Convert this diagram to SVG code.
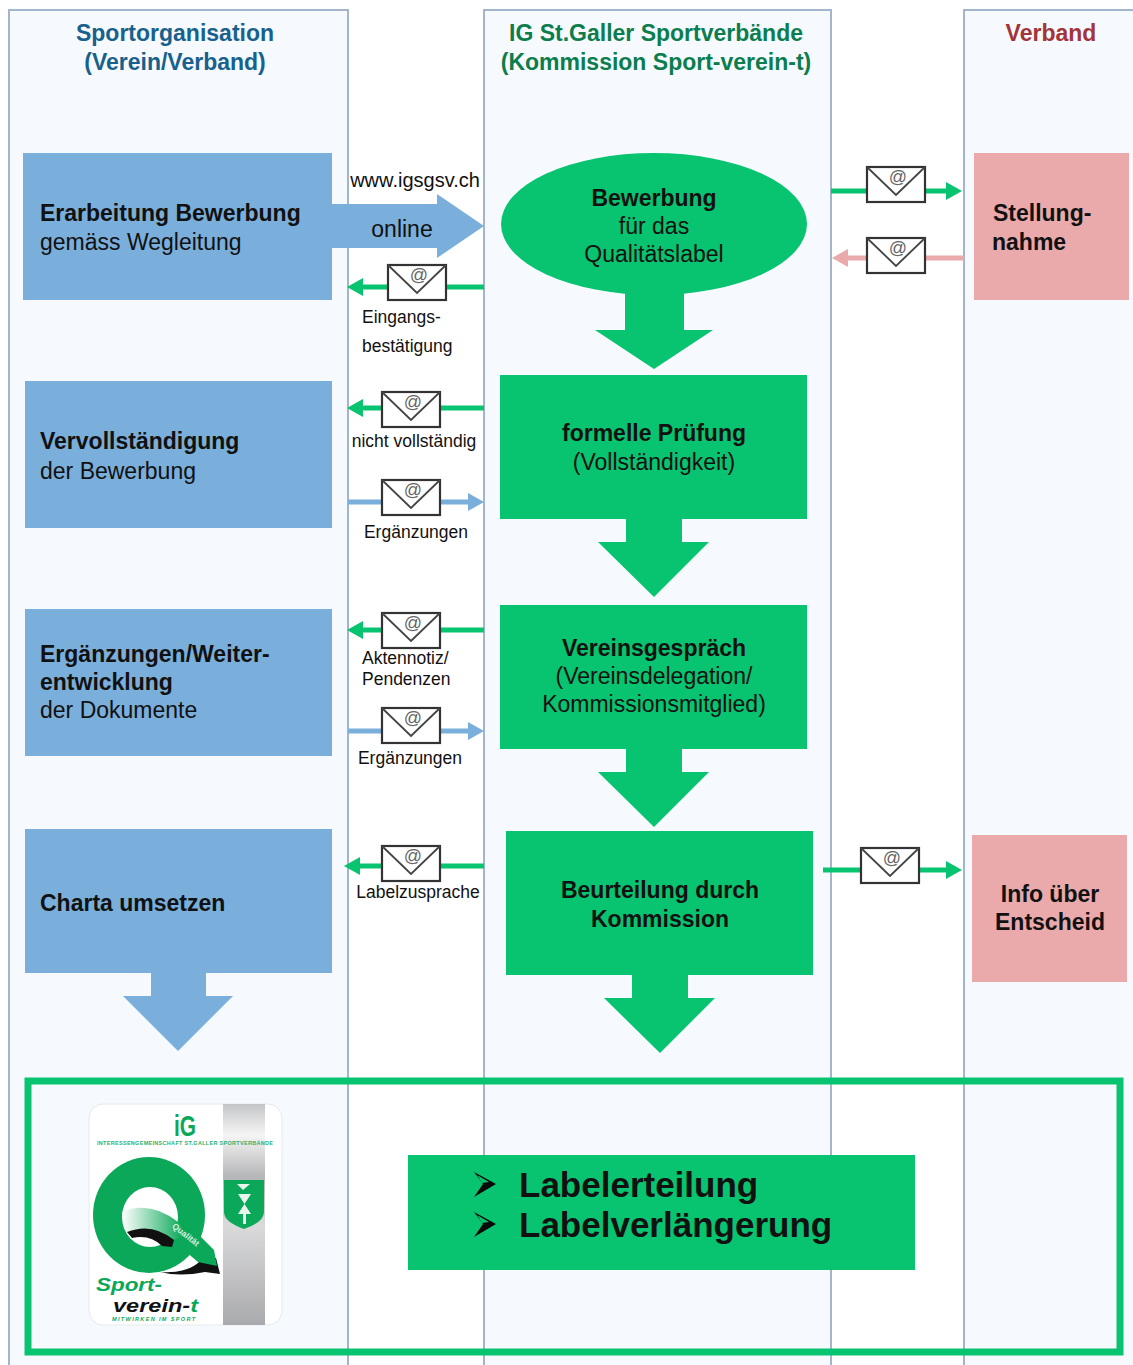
<svg xmlns="http://www.w3.org/2000/svg" width="1133" height="1365" viewBox="0 0 1133 1365">
<style>
text{font-family:"Liberation Sans",Arial,sans-serif;fill:#111}
.lane{fill:#f6faff;stroke:#a3b4cd;stroke-width:2}
.n{font-size:23px;text-anchor:start}
.b{font-weight:bold}
.c{text-anchor:middle}
.s{font-size:17.5px}
.blue{fill:#7aaedb}.green{fill:#08c36f}.pink{fill:#eaa9aa}
.g{stroke:#08c36f;stroke-width:5;fill:none}
.bl{stroke:#7aaedb;stroke-width:5;fill:none}
.p{stroke:#eaa9aa;stroke-width:5;fill:none}
.hd{font-size:23px;font-weight:bold}
</style>
<defs>
<g id="env">
<rect x="0" y="0" width="58" height="35" fill="#fff" stroke="#333" stroke-width="2.2"/>
<path d="M0 0L29 28L58 0" fill="none" stroke="#444" stroke-width="1.8"/>
<text x="31" y="16" font-size="18" text-anchor="middle" style="fill:#666">@</text>
</g>
<g id="bullet">
<path d="M0 0L22 12L0 25L9 12Z" fill="#0a0a0a"/>
<path d="M3 3L15 10L8 11Z" fill="#08c36f"/>
</g>
<marker id="mg" markerUnits="userSpaceOnUse" markerWidth="18" markerHeight="18" refX="10" refY="9" orient="auto"><path d="M0 0L16 9L0 18Z" fill="#08c36f"/></marker>
<marker id="mb" markerUnits="userSpaceOnUse" markerWidth="18" markerHeight="18" refX="10" refY="9" orient="auto"><path d="M0 0L16 9L0 18Z" fill="#7aaedb"/></marker>
<marker id="mp" markerUnits="userSpaceOnUse" markerWidth="18" markerHeight="18" refX="10" refY="9" orient="auto"><path d="M0 0L16 9L0 18Z" fill="#eaa9aa"/></marker>
<linearGradient id="grey" x1="0" y1="0" x2="0" y2="1"><stop offset="0" stop-color="#c4c5c7"/><stop offset=".14" stop-color="#f5f5f5"/><stop offset=".33" stop-color="#b5b6b8"/><stop offset=".55" stop-color="#dadadb"/><stop offset="1" stop-color="#a9aaad"/></linearGradient>
<linearGradient id="sw" x1="0" y1="0" x2="1" y2="0"><stop offset="0" stop-color="#fff"/><stop offset=".9" stop-color="#0aa858"/></linearGradient>
</defs>

<g id="lanes">
<rect class="lane" x="9" y="10" width="339" height="1365"/>
<rect class="lane" x="484" y="10" width="347" height="1365"/>
<rect class="lane" x="964" y="10" width="180" height="1365"/>
<text class="hd c" x="175" y="41" style="fill:#17618c">Sportorganisation</text>
<text class="hd c" x="175" y="70" style="fill:#17618c">(Verein/Verband)</text>
<text class="hd c" x="656" y="41" style="fill:#0c7d4d">IG St.Galler Sportverbände</text>
<text class="hd c" x="656" y="70" style="fill:#0c7d4d">(Kommission Sport-verein-t)</text>
<text class="hd c" x="1051" y="41" style="fill:#a2343a">Verband</text>
</g>

<g id="connectors">
<path class="g" d="M484 287H353" marker-end="url(#mg)"/>
<path class="g" d="M484 408H353" marker-end="url(#mg)"/>
<path class="bl" d="M348 502H478" marker-end="url(#mb)"/>
<path class="g" d="M484 630H353" marker-end="url(#mg)"/>
<path class="bl" d="M348 731H478" marker-end="url(#mb)"/>
<path class="g" d="M484 866H350" marker-end="url(#mg)"/>
<path class="g" d="M831 191H956" marker-end="url(#mg)"/>
<path class="p" d="M964 258H838" marker-end="url(#mp)"/>
<path class="g" d="M823 870H956" marker-end="url(#mg)"/>
<use href="#env" x="388" y="265"/>
<use href="#env" x="382" y="392"/>
<use href="#env" x="382" y="480"/>
<use href="#env" x="382" y="613"/>
<use href="#env" x="382" y="708"/>
<use href="#env" x="382" y="846"/>
<use href="#env" x="867" y="167"/>
<use href="#env" x="867" y="238"/>
<use href="#env" x="861" y="848"/>
<g class="s">
<text x="415" y="187" class="c" style="font-size:20px">www.igsgsv.ch</text>
<text x="362" y="323">Eingangs-</text>
<text x="362" y="352">bestätigung</text>
<text x="414" y="447" class="c">nicht vollständig</text>
<text x="416" y="538" class="c">Ergänzungen</text>
<text x="362" y="664">Aktennotiz/</text>
<text x="362" y="685">Pendenzen</text>
<text x="410" y="764" class="c">Ergänzungen</text>
<text x="418" y="898" class="c">Labelzusprache</text>
</g>
</g>

<g id="n1"><rect class="blue" x="23" y="153" width="309" height="147"/>
<path class="blue" d="M332 204H437V194L484 226L437 258V248H332Z"/>
<text class="n b" x="40" y="221">Erarbeitung Bewerbung</text><text class="n" x="40" y="250">gemäss Wegleitung</text>
<text x="402" y="237" class="c" style="font-size:23px">online</text></g>
<g id="n2"><rect class="blue" x="25" y="381" width="307" height="147"/>
<text class="n b" x="40" y="449">Vervollständigung</text><text class="n" x="40" y="479">der Bewerbung</text></g>
<g id="n3"><rect class="blue" x="25" y="609" width="307" height="147"/>
<text class="n b" x="40" y="662">Ergänzungen/Weiter-</text><text class="n b" x="40" y="690">entwicklung</text><text class="n" x="40" y="718">der Dokumente</text></g>
<g id="n4"><path class="blue" d="M25 829H332V973H206V996H233L178 1051L123 996H151V973H25Z"/>
<text class="n b" x="40" y="911">Charta umsetzen</text></g>

<g id="n5"><path class="green" d="M625 290H684V330H713L654 369L595 330H625Z"/><ellipse class="green" cx="654" cy="224" rx="153" ry="71"/>
<text class="n b c" x="654" y="206">Bewerbung</text><text class="n c" x="654" y="234">für das</text><text class="n c" x="654" y="262">Qualitätslabel</text></g>
<g id="n6"><path class="green" d="M500 375H807V519H682V542H709L654 597L598 542H626V519H500Z"/>
<text class="n b c" x="654" y="441">formelle Prüfung</text><text class="n c" x="654" y="470">(Vollständigkeit)</text></g>
<g id="n7"><path class="green" d="M500 605H807V749H682V772H709L654 827L598 772H626V749H500Z"/>
<text class="n b c" x="654" y="656">Vereinsgespräch</text><text class="n c" x="654" y="684">(Vereinsdelegation/</text><text class="n c" x="654" y="712">Kommissionsmitglied)</text></g>
<g id="n8"><path class="green" d="M506 831H813V975H688V998H715L660 1053L604 998H632V975H506Z"/>
<text class="n b c" x="660" y="898">Beurteilung durch</text><text class="n b c" x="660" y="927">Kommission</text></g>
<g id="n9"><rect class="pink" x="974" y="153" width="155" height="147"/>
<text class="n b" x="993" y="221">Stellung-</text><text class="n b" x="992" y="250">nahme</text></g>
<g id="n10"><rect class="pink" x="972" y="835" width="155" height="147"/>
<text class="n b c" x="1050" y="902">Info über</text><text class="n b c" x="1050" y="930">Entscheid</text></g>

<g id="result">
<rect x="28" y="1081" width="1092" height="271" fill="none" stroke="#08c36f" stroke-width="7"/>
<rect class="green" x="408" y="1155" width="507" height="115"/>
<use href="#bullet" x="474" y="1172"/>
<use href="#bullet" x="474" y="1212"/>
<text class="b" x="519" y="1197" style="font-size:35px">Labelerteilung</text>
<text class="b" x="519" y="1237" style="font-size:35px">Labelverlängerung</text>
</g>

<g id="logo">
<rect x="89" y="1104" width="193" height="221" rx="14" fill="#fff" stroke="#e6e8ec"/>
<rect x="223" y="1104" width="42" height="221" fill="url(#grey)"/>
<path d="M224 1180H264V1212Q264 1222 244 1229Q224 1222 224 1212Z" fill="#0aa858"/>
<path d="M237 1184H250L243 1190ZM238 1194H251L244.500 1204ZM244.500 1204L251 1214H238Z M243 1214H246V1224H243Z" fill="#e8f4ec"/>
<text x="185" y="1136" class="c b" textLength="22" lengthAdjust="spacingAndGlyphs" style="font-size:30px;fill:#0aa858">iG</text>
<text x="185" y="1145" class="c b" textLength="176" lengthAdjust="spacing" style="font-size:5.5px;fill:#2faf6e">INTERESSENGEMEINSCHAFT ST.GALLER SPORTVERBÄNDE</text>
<path d="M160 1272Q190 1274 203 1258L216 1258L220 1274L205 1272Q180 1277 160 1272Z" fill="#111"/>
<ellipse cx="149" cy="1215" rx="56" ry="58" fill="#0aa858"/>
<ellipse cx="150" cy="1217" rx="28" ry="30" fill="#fff"/>
<path d="M178 1222L196 1232L214 1250L217 1266L198 1262L172 1240Z" fill="#0aa858"/>
<path d="M122 1212Q150 1200 178 1222L190 1232L174 1240Q150 1224 127 1232Z" fill="url(#sw)"/>
<path d="M127 1232Q152 1222 174 1240L172 1247L162 1246Q150 1234 132 1238Z" fill="#111"/>
<text x="184" y="1237" class="c" transform="rotate(38 184 1237)" style="font-size:8.500px;font-weight:bold;fill:#d8f0e0">Qualität</text>
<text x="96" y="1291" textLength="66" lengthAdjust="spacingAndGlyphs" style="font-size:19px;font-weight:bold;font-style:italic;fill:#0aa858">Sport-</text>
<text x="113" y="1312" textLength="85" lengthAdjust="spacingAndGlyphs" style="font-size:19px;font-weight:bold;font-style:italic;fill:#111">verein-<tspan style="fill:#0aa858">t</tspan></text>
<text x="112" y="1320.500" textLength="83" lengthAdjust="spacing" style="font-size:5.500px;font-weight:bold;font-style:italic;fill:#0aa858">MITWIRKEN IM SPORT</text>
</g>
</svg>
